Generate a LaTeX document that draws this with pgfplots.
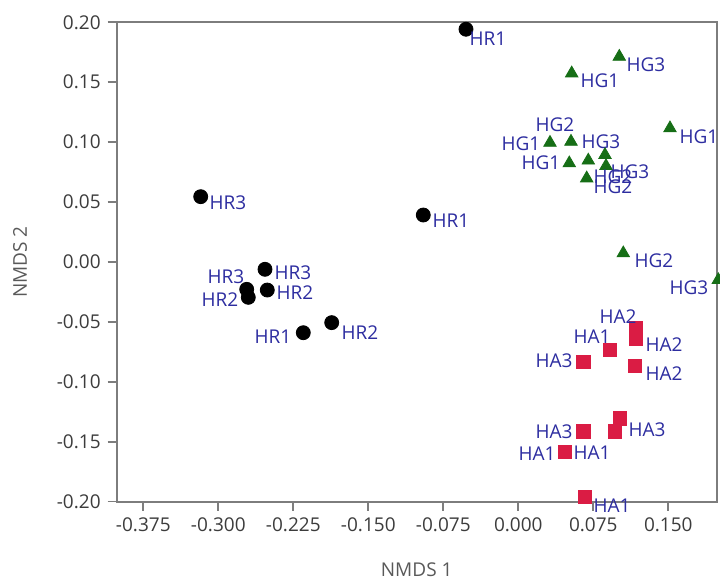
\documentclass[border=0pt]{standalone}
\usepackage{pgfplots}
\pgfplotsset{compat=1.18}
\usepackage{pgfplotstable}
\usepackage{fontspec}
\setmainfont{Open Sans}
\definecolor{labc}{RGB}{45,45,160}
\definecolor{hgc}{RGB}{22,110,22}
\definecolor{hac}{RGB}{218,28,68}
\definecolor{axc}{RGB}{125,125,125}
\definecolor{tkc}{RGB}{60,60,60}

\pgfplotstableread{
x y lab dx dy
-0.0523 0.1942 HR1 11.0 -4.85
-0.3176 0.0545 HR3 13.65 -3.15
-0.0950 0.0392 HR1 13.85 -3.0
-0.2533 -0.0061 HR3 14.0 -1.85
-0.2510 -0.0234 HR2 13.85 -1.5
-0.2716 -0.0228 HR3 -10.35 6.15
-0.2700 -0.0295 HR2 -14.15 -1.35
-0.2150 -0.0590 HR1 -15.15 -2.15
-0.1866 -0.0506 HR2 14.15 -5.15
}\hrtab

\pgfplotstableread{
x y lab dx dy
0.1010 0.1713 HG3 13.35 -4.15
0.0534 0.1574 HG1 14.15 -3.85
0.1517 0.1116 HG1 14.5 -4.35
0.0317 0.0995 HG1 -14.5 -0.65
0.0527 0.1004 HG2 -8.0 8.35
0.0700 0.0847 HG3 6.35 9.25
0.0510 0.0824 HG1 -14.15 0.15
0.0867 0.0893 HG3 12.5 -8.5
0.0877 0.0801 HG2 3.5 -5.5
0.0684 0.0698 HG2 13.15 -4.35
0.1050 0.0073 HG2 15.35 -3.85
0.2000 -0.0150 HG3 -14.65 -4.0
}\hgtab

\pgfplotstableread{
x y lab dx dy
0.1177 -0.0551 HA2 -9.0 5.5
0.1177 -0.0642 HA2 14.0 -3.0
0.0917 -0.0734 HA1 -9.0 6.5
0.0650 -0.0832 HA3 -14.65 0.35
0.1167 -0.0868 HA2 14.5 -4.0
0.1017 -0.1304 HA3 13.5 -5.85
0.0967 -0.1416 HA1 -11.5 -10.65
0.0650 -0.1416 HA3 -14.65 -0.15
0.0467 -0.1583 HA1 -14.0 -1.15
0.0667 -0.1961 HA1 13.5 -4.5
}\hatab

\pgfplotsset{
  lbl/.style={
    point meta=explicit symbolic,
    nodes near coords,
    visualization depends on={\thisrow{dx} \as \myDx},
    visualization depends on={\thisrow{dy} \as \myDy},
    every node near coord/.append style={anchor=center, xshift=\myDx pt, yshift=\myDy pt,
      text=labc, inner sep=0pt, font=\fontsize{9.5pt}{11pt}\selectfont},
  }
}

\begin{document}
\begin{tikzpicture}
\begin{axis}[
  at={(0,0)}, anchor=south west,
  scale only axis, width=300pt, height=239.7pt,
  xmin=-0.4016, xmax=0.1984, ymin=-0.2, ymax=0.2,
  clip=false,
  axis line style={draw=axc, line width=1.1pt},
  tick pos=left, tick align=outside,
  major tick length=4.5pt,
  tick style={draw=axc, line width=0.8pt},
  xtick={-0.375,-0.3,-0.225,-0.15,-0.075,0,0.075,0.15},
  ytick={-0.2,-0.15,-0.1,-0.05,0,0.05,0.1,0.15,0.2},
  scaled ticks=false,
  /pgf/number format/assume math mode=true,
  x tick label style={/pgf/number format/fixed, /pgf/number format/fixed zerofill, /pgf/number format/precision=3},
  y tick label style={/pgf/number format/fixed, /pgf/number format/fixed zerofill, /pgf/number format/precision=2},
  tick label style={font=\fontsize{9.5pt}{11pt}\selectfont, text=tkc},
  xlabel={NMDS 1}, ylabel={NMDS 2},
  label style={font=\fontsize{9.5pt}{11pt}\selectfont, text=tkc!85},
  xlabel style={at={(axis description cs:0.5,-0.1418)}, anchor=center},
  ylabel style={at={(axis description cs:-0.1612,0.5)}, anchor=center},
]
\addplot[only marks, mark=*, mark size=3.5pt, draw=black, fill=black, lbl] table[x=x, y=y, meta=lab] {\hrtab};
\addplot[only marks, mark=triangle*, mark size=3.6pt, draw=hgc, fill=hgc, lbl] table[x=x, y=y, meta=lab] {\hgtab};
\addplot[only marks, mark=square*, mark size=3.4pt, draw=hac, fill=hac, lbl] table[x=x, y=y, meta=lab] {\hatab};
\end{axis}
\pgfresetboundingbox
\useasboundingbox (-58.35pt,-40.65pt) rectangle (301.65pt,250.85pt);
\end{tikzpicture}
\end{document}
